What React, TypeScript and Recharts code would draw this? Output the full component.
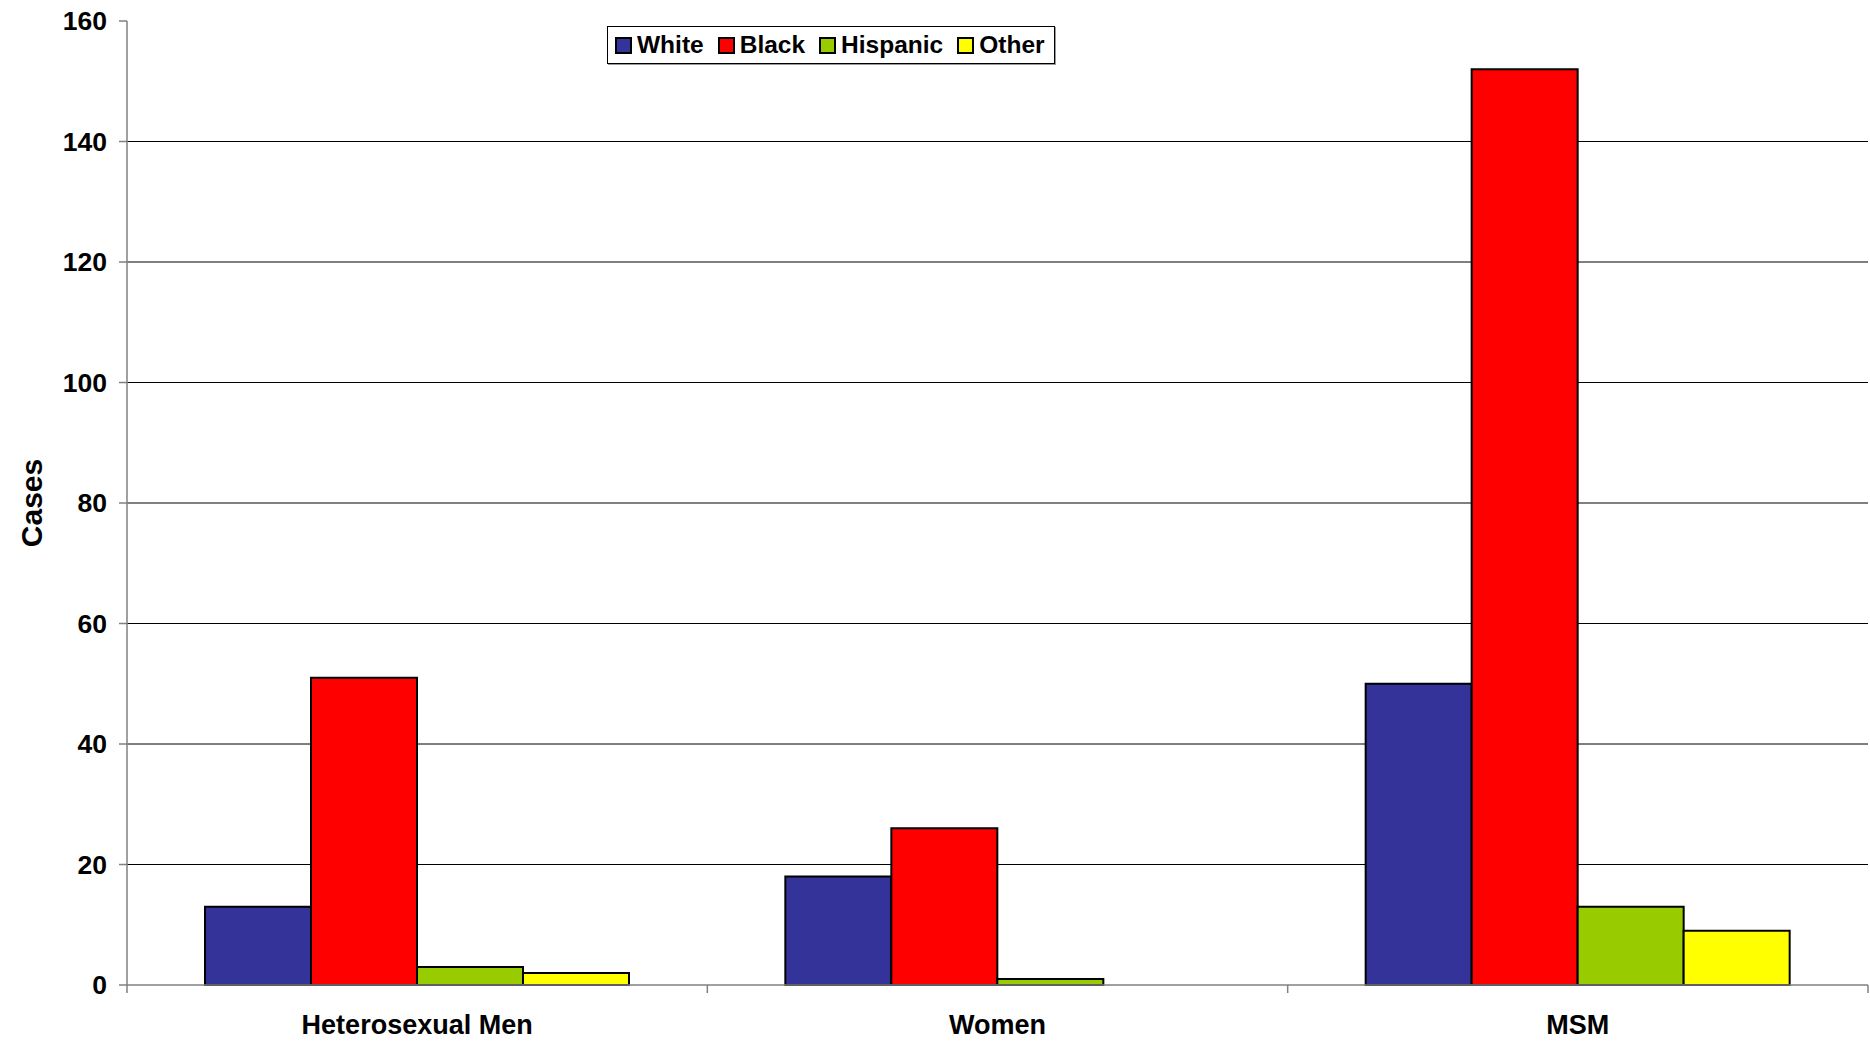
import React from "react";
import {
  BarChart,
  Bar,
  XAxis,
  YAxis,
  CartesianGrid,
} from "recharts";

const categories = ["Heterosexual Men", "Women", "MSM"];
const white = [13, 18, 50];
const black = [51, 26, 152];
const hispanic = [3, 1, 13];
const other = [2, 0, 9];
const yTicks = [0, 20, 40, 60, 80, 100, 120, 140, 160];
const gridValues = [20, 40, 60, 80, 100, 120, 140];

const series = [
  { key: "white", name: "White", color: "#333399", values: white },
  { key: "black", name: "Black", color: "#FF0000", values: black },
  { key: "hispanic", name: "Hispanic", color: "#99CC00", values: hispanic },
  { key: "other", name: "Other", color: "#FFFF00", values: other },
];

const data = categories.map((cat, i) => {
  const row: any = { category: cat };
  series.forEach((s) => {
    row[s.key] = s.values[i];
  });
  return row;
});

const FONT = '"Liberation Sans", Arial, sans-serif';

function CategoryTick(props: any) {
  const { x, y, payload, index, width } = props;
  const band = width / categories.length;
  const left = x - band / 2;
  return (
    <g>
      <line x1={left} y1={y} x2={left} y2={y + 8} stroke="#808080" strokeWidth={1.5} />
      {index === categories.length - 1 && (
        <line x1={left + band} y1={y} x2={left + band} y2={y + 8} stroke="#808080" strokeWidth={1.5} />
      )}
      <text
        x={x}
        y={y + 49}
        textAnchor="middle"
        fontFamily={FONT}
        fontWeight="bold"
        fontSize={27}
        fill="#000"
      >
        {payload.value}
      </text>
    </g>
  );
}

function CasesLabel(props: any) {
  const { viewBox } = props;
  const cy = viewBox.y + viewBox.height / 2;
  return (
    <text
      x={42}
      y={cy}
      transform={`rotate(-90, 42, ${cy})`}
      textAnchor="middle"
      fontFamily={FONT}
      fontWeight="bold"
      fontSize={30}
      fill="#000"
    >
      Cases
    </text>
  );
}

function LegendBox() {
  return (
    <div
      style={{
        position: "absolute",
        left: 607,
        top: 26,
        width: 448,
        height: 38,
        boxSizing: "border-box",
        border: "1px solid #000",
        background: "#fff",
        boxShadow: "1px 1px 0 #999",
        display: "flex",
        alignItems: "center",
        paddingLeft: 7,
        fontFamily: FONT,
        fontWeight: "bold",
        fontSize: 24.5,
        color: "#000",
      }}
    >
      {series.map((s) => (
        <div key={s.key} style={{ display: "flex", alignItems: "center", marginRight: 14 }}>
          <span
            style={{
              display: "inline-block",
              width: 17,
              height: 17,
              boxSizing: "border-box",
              border: "2px solid #000",
              background: s.color,
              marginRight: 5,
            }}
          />
          <span>{s.name}</span>
        </div>
      ))}
    </div>
  );
}

export default function App() {
  return (
    <div style={{ position: "absolute", left: 0, top: 0, width: 1870, height: 1045, background: "#fff" }}>
      <BarChart
        width={1870}
        height={1045}
        data={data}
        margin={{ top: 21, right: 2, bottom: 0, left: 0 }}
        barGap={0}
        style={{ fontFamily: FONT }}
      >
        <CartesianGrid
          vertical={false}
          horizontalValues={gridValues}
          stroke="#000"
          strokeWidth={1}
        />
        <XAxis
          dataKey="category"
          height={60}
          tickLine={false}
          tickSize={0}
          tickMargin={0}
          stroke="#808080"
          strokeWidth={1.5}
          tick={<CategoryTick />}
          interval={0}
        />
        <YAxis
          width={127}
          domain={[0, 160]}
          ticks={yTicks}
          interval={0}
          tickSize={8}
          tickMargin={12}
          stroke="#808080"
          strokeWidth={1.5}
          tick={{ fill: "#000", fontSize: 26.5, fontWeight: "bold", fontFamily: FONT }}
          label={<CasesLabel />}
        />
        {series.map((s) => (
          <Bar
            key={s.key}
            dataKey={s.key}
            name={s.name}
            fill={s.color}
            stroke="#000"
            strokeWidth={2}
            barSize={106}
            isAnimationActive={false}
          />
        ))}
      </BarChart>
      <LegendBox />
    </div>
  );
}
